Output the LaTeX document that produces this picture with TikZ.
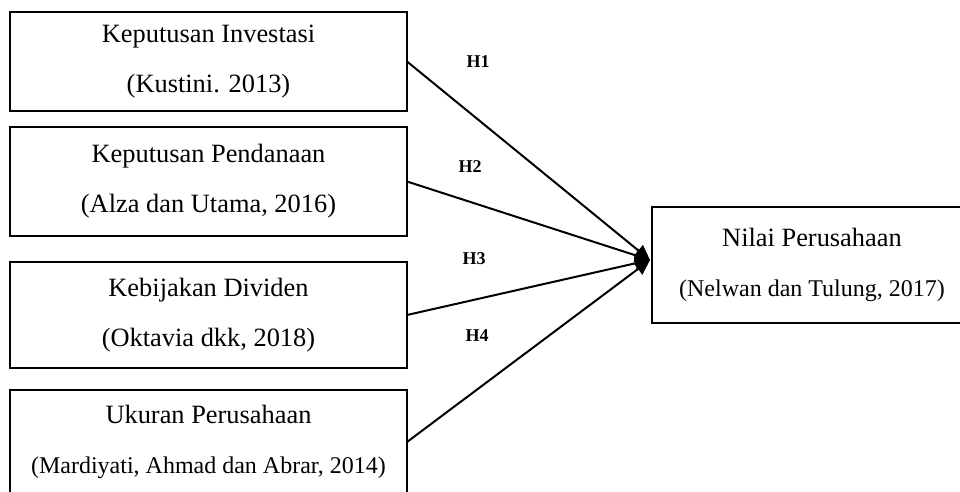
\documentclass[tikz,border=0pt]{standalone}
\usepackage{fontspec}
\setmainfont{Liberation Serif}
\usetikzlibrary{positioning, arrows.meta}

\begin{document}
\begin{tikzpicture}[
  x=0.5pt, y=-0.5pt,
  font=\fontsize{13.2}{25}\selectfont,
  >={Triangle[length=7.5pt,width=7pt]},
  var/.style={draw, line width=1.2pt, align=center, inner sep=0pt,
              outer sep=0pt, minimum width=198.5pt},
  flow/.style={->, line width=1pt},
  hyp/.style={font=\fontsize{9}{11}\selectfont\bfseries, inner sep=0pt},
]
\clip (0,0) rectangle (960,492);

% Independent variables (left column)
\node[var, minimum height=49.5pt] (kinv) at (208.5,61.5)
  {Keputusan Investasi\\(Kustini. 2013)};
\node[var, minimum height=54.5pt, below=8pt of kinv] (kpend)
  {Keputusan Pendanaan\\(Alza dan Utama, 2016)};
\node[var, minimum height=53pt, below=13pt of kpend] (kdiv)
  {Kebijakan Dividen\\(Oktavia dkk, 2018)};
\node[var, minimum height=52pt, below=11pt of kdiv] (ukuran)
  {Ukuran Perusahaan\\{\fontsize{12}{25}\selectfont (Mardiyati, Ahmad dan Abrar, 2014)}};

% Dependent variable
\node[var, minimum width=160pt, minimum height=58pt] (nilai) at (812,265)
  {Nilai Perusahaan\\{\fontsize{12}{25}\selectfont (Nelwan dan Tulung, 2017)}};
\coordinate (tip) at (650,260);

% Hypotheses
\draw[flow] (kinv.east) -- (tip);
\draw[flow] (kpend.east) -- (tip);
\draw[flow] (kdiv.east) -- (tip);
\draw[flow] (ukuran.east) -- (tip);

\node[hyp] (h1) at (478,62) {H1};
\node[hyp] (h2) at (470,167) {H2};
\node[hyp] (h3) at (474,259) {H3};
\node[hyp] (h4) at (477,336) {H4};

\end{tikzpicture}
\end{document}
